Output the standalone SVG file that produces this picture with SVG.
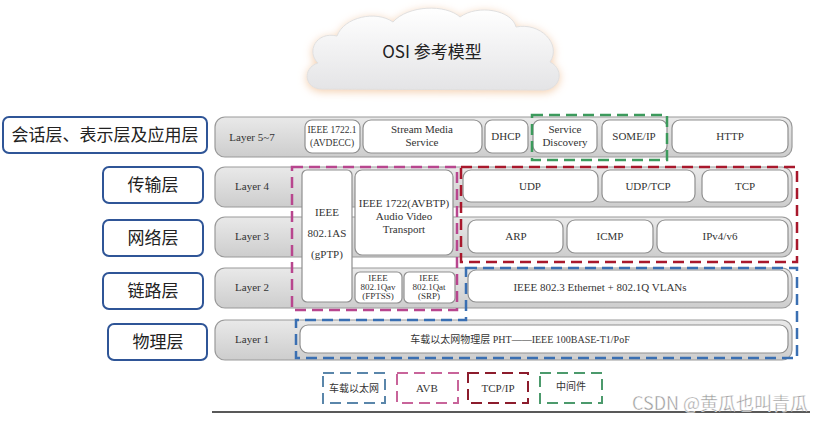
<svg xmlns="http://www.w3.org/2000/svg" width="831" height="423" viewBox="0 0 831 423">
<defs>
  <linearGradient id="rowg" x1="0" y1="0" x2="0" y2="1">
    <stop offset="0" stop-color="#e9e9e9"/>
    <stop offset="1" stop-color="#cdcdcd"/>
  </linearGradient>
  <linearGradient id="cloudg" x1="0" y1="0" x2="0" y2="1">
    <stop offset="0" stop-color="#ffffff"/>
    <stop offset="1" stop-color="#e4e4e6"/>
  </linearGradient>
  <filter id="glow" x="-20%" y="-30%" width="140%" height="160%">
    <feDropShadow dx="0" dy="2" stdDeviation="4" flood-color="#f2c9a4" flood-opacity="0.9"/>
  </filter>
  <style>
    .lbl{fill:#fff;stroke:#2f5597;stroke-width:2}
    .lt{font-family:"Noto Sans CJK SC","Noto Sans",sans-serif;font-size:17px;fill:#222;text-anchor:middle}
    .row{fill:url(#rowg);stroke:#9a9a9a;stroke-width:1.2}
    .box{fill:#fff;stroke:#8f8f8f;stroke-width:1.2}
    .t{font-family:"Liberation Serif","Noto Sans CJK SC",serif;font-size:11px;fill:#333;text-anchor:middle}
    .ts{font-family:"Liberation Serif","Noto Sans CJK SC",serif;font-size:9px;fill:#333;text-anchor:middle}
    .sm{font-size:9.5px}
    .sm10{font-size:10px}
    .dash{fill:none;stroke-width:2.5;stroke-dasharray:11 6}
    .dl{stroke-width:2}
  </style>
</defs>
<rect width="831" height="423" fill="#ffffff"/>

<g id="cloud">
  <path d="M322 89 C304 89 302 68 318 63 C306 52 316 31 337 36 C344 17 376 10 393 22 C408 5 446 4 460 17 C478 4 512 10 516 27 C540 22 562 44 550 62 C566 70 560 92 540 90 Z" fill="url(#cloudg)" stroke="#e0e0e0" stroke-width="1" filter="url(#glow)"/>
  <text x="432" y="58" style="font-family:'Noto Sans CJK SC','Noto Sans',sans-serif;font-size:17px;fill:#222;text-anchor:middle">OSI 参考模型</text>
</g>

<g id="labels">
  <g id="lbl-app"><rect class="lbl" x="3" y="117" width="204" height="36" rx="6"/><text class="lt" x="105" y="141">会话层、表示层及应用层</text></g>
  <g id="lbl-transport"><rect class="lbl" x="103" y="167" width="100" height="36" rx="6"/><text class="lt" x="153" y="191">传输层</text></g>
  <g id="lbl-network"><rect class="lbl" x="103" y="220" width="100" height="36" rx="6"/><text class="lt" x="153" y="244">网络层</text></g>
  <g id="lbl-link"><rect class="lbl" x="103" y="273" width="100" height="36" rx="6"/><text class="lt" x="153" y="297">链路层</text></g>
  <g id="lbl-phy"><rect class="lbl" x="108" y="324" width="99" height="36" rx="6"/><text class="lt" x="158" y="348">物理层</text></g>
</g>

<g id="rows">
  <g id="row57"><rect class="row" x="215" y="117" width="577" height="40" rx="10"/><text class="t" x="252" y="141">Layer 5~7</text></g>
  <g id="row4"><rect class="row" x="215" y="167" width="577" height="40" rx="10"/><text class="t" x="252" y="190">Layer 4</text></g>
  <g id="row3"><rect class="row" x="215" y="217" width="577" height="40" rx="10"/><text class="t" x="252" y="240">Layer 3</text></g>
  <g id="row2"><rect class="row" x="215" y="268" width="577" height="40" rx="10"/><text class="t" x="252" y="291">Layer 2</text></g>
  <g id="row1"><rect class="row" x="215" y="320" width="577" height="40" rx="10"/><text class="t" x="252" y="343">Layer 1</text></g>
</g>

<g id="l57">
  <g id="avdecc"><rect class="box" x="305" y="120" width="55" height="33" rx="7"/><text class="t sm" x="332" y="133">IEEE 1722.1</text><text class="t sm" x="332" y="146">(AVDECC)</text></g>
  <g id="sms"><rect class="box" x="363" y="120" width="119" height="33" rx="8"/><text class="t" x="422" y="133">Stream Media</text><text class="t" x="422" y="146">Service</text></g>
  <g id="dhcp"><rect class="box" x="485" y="120" width="43" height="33" rx="7"/><text class="t" x="506" y="140">DHCP</text></g>
  <g id="sd"><rect class="box" x="533" y="120" width="64" height="33" rx="7"/><text class="t" x="565" y="133">Service</text><text class="t" x="565" y="146">Discovery</text></g>
  <g id="someip"><rect class="box" x="602" y="120" width="65" height="33" rx="7"/><text class="t" x="634" y="140">SOME/IP</text></g>
  <g id="http"><rect class="box" x="672" y="120" width="116" height="33" rx="8"/><text class="t" x="730" y="140">HTTP</text></g>
</g>

<g id="avb">
  <g id="gptp"><rect class="box" x="302" y="170" width="50" height="132" rx="5"/><text class="t" x="327" y="216">IEEE</text><text class="t" x="327" y="237">802.1AS</text><text class="t" x="327" y="258">(gPTP)</text></g>
  <g id="avbtp"><rect class="box" x="355" y="170" width="98" height="85" rx="7"/><text class="t" x="404" y="207">IEEE 1722(AVBTP)</text><text class="t" x="404" y="220">Audio Video</text><text class="t" x="404" y="233">Transport</text></g>
  <g id="qav"><rect class="box" x="355" y="272" width="47" height="31" rx="5"/><text class="ts" x="378" y="281">IEEE</text><text class="ts" x="378" y="290">802.1Qav</text><text class="ts" x="378" y="299">(FPTSS)</text></g>
  <g id="qat"><rect class="box" x="404" y="272" width="51" height="31" rx="5"/><text class="ts" x="429" y="281">IEEE</text><text class="ts" x="429" y="290">802.1Qat</text><text class="ts" x="429" y="299">(SRP)</text></g>
</g>

<g id="l4">
  <g id="udp"><rect class="box" x="463" y="170" width="135" height="32" rx="8"/><text class="t" x="530" y="190">UDP</text></g>
  <g id="udptcp"><rect class="box" x="602" y="170" width="93" height="32" rx="8"/><text class="t" x="648" y="190">UDP/TCP</text></g>
  <g id="tcp"><rect class="box" x="702" y="170" width="86" height="32" rx="8"/><text class="t" x="745" y="190">TCP</text></g>
</g>
<g id="l3">
  <g id="arp"><rect class="box" x="468" y="220" width="95" height="33" rx="8"/><text class="t" x="516" y="240">ARP</text></g>
  <g id="icmp"><rect class="box" x="567" y="220" width="86" height="33" rx="8"/><text class="t" x="610" y="240">ICMP</text></g>
  <g id="ipv4"><rect class="box" x="657" y="220" width="131" height="33" rx="8"/><text class="t" x="720" y="240">IPv4/v6</text></g>
</g>
<g id="l2"><rect class="box" x="468" y="270" width="320" height="32" rx="8"/><text class="t" x="600" y="291">IEEE 802.3 Ethernet + 802.1Q VLANs</text></g>
<g id="l1"><rect class="box" x="300" y="325" width="488" height="28" rx="8"/><text class="t sm10" x="520" y="343">车载以太网物理层 PHT——IEEE 100BASE-T1/PoF</text></g>

<g id="groups">
  <rect class="dash" x="532" y="115" width="135" height="45" stroke="#3c9a5c"/>
  <rect class="dash" x="292" y="167" width="165" height="143" stroke="#b8468e"/>
  <rect class="dash" x="461" y="167" width="336" height="95" stroke="#a8182c"/>
  <path class="dash" d="M466 268 H797 V358 H296 V320 H466 Z" stroke="#3a6fb2"/>
</g>

<g id="legend">
  <g id="lg-eth"><rect class="dash dl" x="323" y="373" width="62" height="30" stroke="#5a86aa"/><text class="t sm10" x="354" y="392">车载以太网</text></g>
  <g id="lg-avb"><rect class="dash dl" x="397" y="373" width="61" height="30" stroke="#c8649a"/><text class="t" x="427" y="392">AVB</text></g>
  <g id="lg-tcp"><rect class="dash dl" x="468" y="373" width="60" height="30" stroke="#8c1c2c"/><text class="t" x="498" y="392">TCP/IP</text></g>
  <g id="lg-mw"><rect class="dash dl" x="540" y="373" width="62" height="30" stroke="#4c9a6c"/><text class="t sm10" x="571" y="390">中间件</text></g>
</g>

<line x1="212" y1="412" x2="810" y2="412" stroke="#222" stroke-width="1.5"/>
<text x="720" y="410" style="font-family:'Noto Sans CJK SC','Noto Sans',sans-serif;font-size:18px;fill:#9a9a9a;text-anchor:middle;stroke:#ffffff;stroke-width:0.4">CSDN @黄瓜也叫青瓜</text>
</svg>
